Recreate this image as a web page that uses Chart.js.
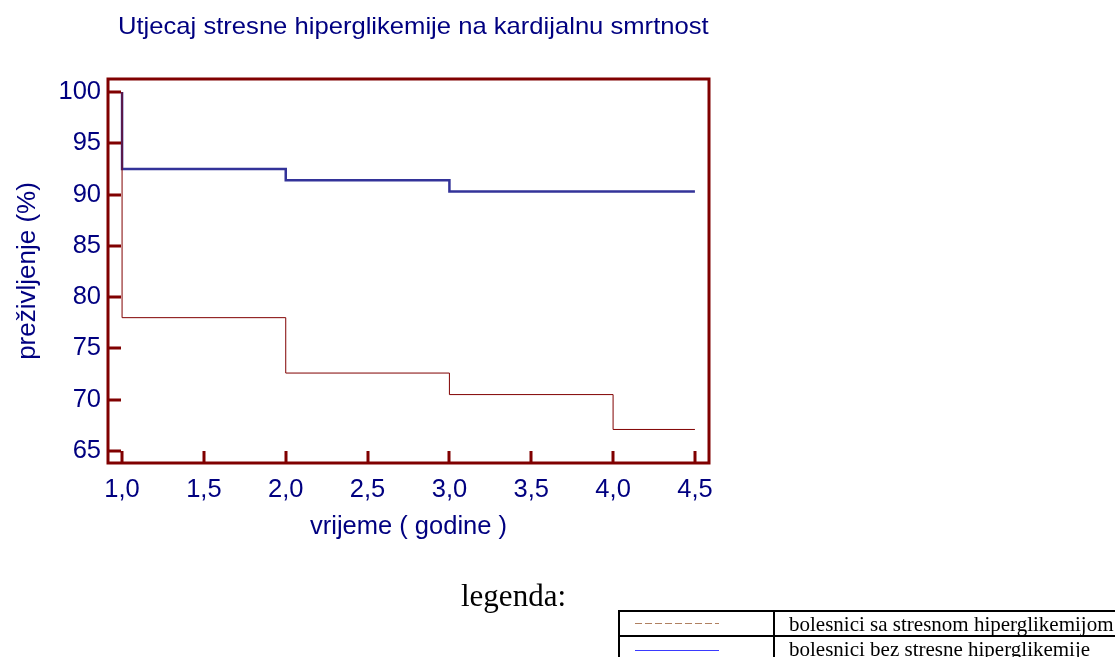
<!DOCTYPE html>
<html>
<head>
<meta charset="utf-8">
<script src="https://cdn.jsdelivr.net/npm/chart.js@4/dist/chart.umd.min.js"></script>
<style>
  body { margin: 0; background: #fff; }
  #wrap { position: relative; width: 1115px; height: 657px; overflow: hidden; }
  #mainChart { position: absolute; left: 0; top: 0; }
  #title { position: absolute; left: 118px; top: 12px; font: 24px "Liberation Sans", Arial, sans-serif; color: #000080; white-space: nowrap; transform: scaleX(1.067); transform-origin: left top; }
  #legTitle { position: absolute; left: 461px; top: 578px; font: 31px "Liberation Serif", "Times New Roman", serif; color: #000; }
  .box { position: absolute; border: 2px solid #000; box-sizing: border-box; }
  .txt { position: absolute; left: 789px; font: 21px "Liberation Serif", "Times New Roman", serif; color: #000; white-space: nowrap; line-height: 24px; }
  .dash { position: absolute; left: 635px; width: 84px; height: 1px; background: repeating-linear-gradient(to right, #b08060 0 7px, transparent 7px 10px); }
  .solid { position: absolute; left: 635px; width: 84px; height: 1px; background: #3a3aff; }
</style>
</head>
<body>
<div id="wrap">
  <canvas id="mainChart" width="1115" height="657"></canvas>
  <div id="title">Utjecaj stresne hiperglikemije na kardijalnu smrtnost</div>
  <div id="legTitle">legenda:</div>
  <div class="box" style="left:618px; top:610px; width:520px; height:27px;"></div>
  <div class="box" style="left:618px; top:635px; width:520px; height:40px;"></div>
  <div class="box" style="left:773px; top:610px; width:2px; height:60px; border-width:0 0 0 2px;"></div>
  <div class="dash" style="top:623px;"></div>
  <div class="txt" style="top:612px;">bolesnici sa stresnom hiperglikemijom</div>
  <div class="solid" style="top:650px;"></div>
  <div class="txt" style="top:637px;">bolesnici bez stresne hiperglikemije</div>
</div>
<script>
// survival curves (years, % survival)
const timesWith    = [1.0, 1.0, 2.0, 3.0, 4.0, 4.5];
const survivalWith = [100, 78.0, 72.6, 70.5, 67.1, 67.1];
const timesWithout    = [1.0, 1.0, 2.0, 3.0, 4.5];
const survivalWithout = [100, 92.5, 91.4, 90.3, 90.3];

const xTicks = [1.0, 1.5, 2.0, 2.5, 3.0, 3.5, 4.0, 4.5];
const yTicks = [65, 70, 75, 80, 85, 90, 95, 100];

const frameColor = '#800000';
const textColor  = '#000080';
const fontFam    = '"Liberation Sans", Arial, sans-serif';

const toPoints = (xs, ys) => xs.map((x, i) => ({ x, y: ys[i] }));

// box around the plot + ticks pointing inward
const framePlugin = {
  id: 'frame',
  afterDatasetsDraw(chart) {
    const { ctx, chartArea: { left, right, top, bottom }, scales: { x, y } } = chart;
    ctx.save();
    ctx.strokeStyle = frameColor;
    ctx.lineWidth = 3;
    ctx.strokeRect(left, top, right - left, bottom - top);
    ctx.beginPath();
    x.ticks.forEach(t => {
      const px = Math.round(x.getPixelForValue(t.value));
      ctx.moveTo(px, bottom);
      ctx.lineTo(px, bottom - 12);
    });
    y.ticks.forEach(t => {
      const py = Math.round(y.getPixelForValue(t.value));
      ctx.moveTo(left, py);
      ctx.lineTo(left + 13, py);
    });
    ctx.stroke();
    ctx.restore();
  }
};

new Chart(document.getElementById('mainChart').getContext('2d'), {
  type: 'line',
  data: {
    datasets: [
      {
        label: 'bolesnici sa stresnom hiperglikemijom',
        data: toPoints(timesWith, survivalWith),
        stepped: 'before',
        borderColor: '#800000',
        borderWidth: 1,
        pointRadius: 0,
        fill: false
      },
      {
        label: 'bolesnici bez stresne hiperglikemije',
        data: toPoints(timesWithout, survivalWithout),
        stepped: 'before',
        borderColor: '#333399',
        borderWidth: 2.5,
        pointRadius: 0,
        fill: false
      }
    ]
  },
  options: {
    responsive: false,
    animation: false,
    layout: { padding: { left: 0, right: 406, top: 79, bottom: 108 } },
    plugins: {
      legend: { display: false },
      tooltip: { enabled: false }
    },
    scales: {
      x: {
        type: 'linear',
        min: 0.914,
        max: 4.586,
        afterBuildTicks: s => { s.ticks = xTicks.map(v => ({ value: v })); },
        afterFit: s => { s.height = 86; },
        grid: { display: false, drawTicks: false },
        border: { display: false },
        ticks: {
          padding: 12,
          color: textColor,
          font: { family: fontFam, size: 25.5 },
          maxRotation: 0,
          autoSkip: false,
          callback: v => v.toFixed(1).replace('.', ',')
        },
        title: {
          display: true,
          text: 'vrijeme ( godine )',
          color: textColor,
          font: { family: fontFam, size: 25.5 },
          padding: { top: 4, bottom: 7 }
        }
      },
      y: {
        min: 63.83,
        max: 101.27,
        afterBuildTicks: s => { s.ticks = yTicks.map(v => ({ value: v })); },
        afterFit: s => { s.width = 108; },
        grid: { display: false, drawTicks: false },
        border: { display: false },
        ticks: {
          padding: 7,
          color: textColor,
          font: { family: fontFam, size: 25.5 },
          autoSkip: false
        },
        title: {
          display: true,
          text: 'preživljenje (%)',
          color: textColor,
          font: { family: fontFam, size: 26 },
          padding: { top: 12, bottom: 4 }
        }
      }
    }
  },
  plugins: [framePlugin]
});
</script>
</body>
</html>
